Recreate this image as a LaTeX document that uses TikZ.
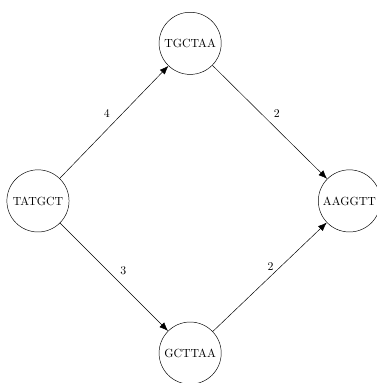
\documentclass[tikz,border=0pt]{standalone}
\usepackage{tikz}
\usetikzlibrary{arrows.meta}

\tikzset{
	seq/.style={draw, circle, minimum size=1.85cm, inner sep=1pt},
	link/.style={-{Latex[length=2.6mm,width=2mm]}}
}

\begin{document}
\begin{tikzpicture}
	\useasboundingbox (0,0) rectangle (11.22,11.40);	%frame of the picture

	%sequences
	\node[seq] (tatgct) at (1.13,5.42) {TATGCT};		%left
	\node[seq] (tgctaa) at (5.66,10.11) {TGCTAA};		%top
	\node[seq] (aaggtt) at (10.40,5.42) {AAGGTT};		%right, cut by the frame
	\node[seq] (gcttaa) at (5.66,0.89) {GCTTAA};		%bottom

	%weighted links
	\draw[link] (tatgct) -- node[above left] {4} (tgctaa);
	\draw[link] (tgctaa) -- node[above right] {2} (aaggtt);
	\draw[link] (tatgct) -- node[pos=0.52, above right] {3} (gcttaa);
	\draw[link] (gcttaa) -- node[pos=0.6, left=3pt] {2} (aaggtt);
\end{tikzpicture}
\end{document}
